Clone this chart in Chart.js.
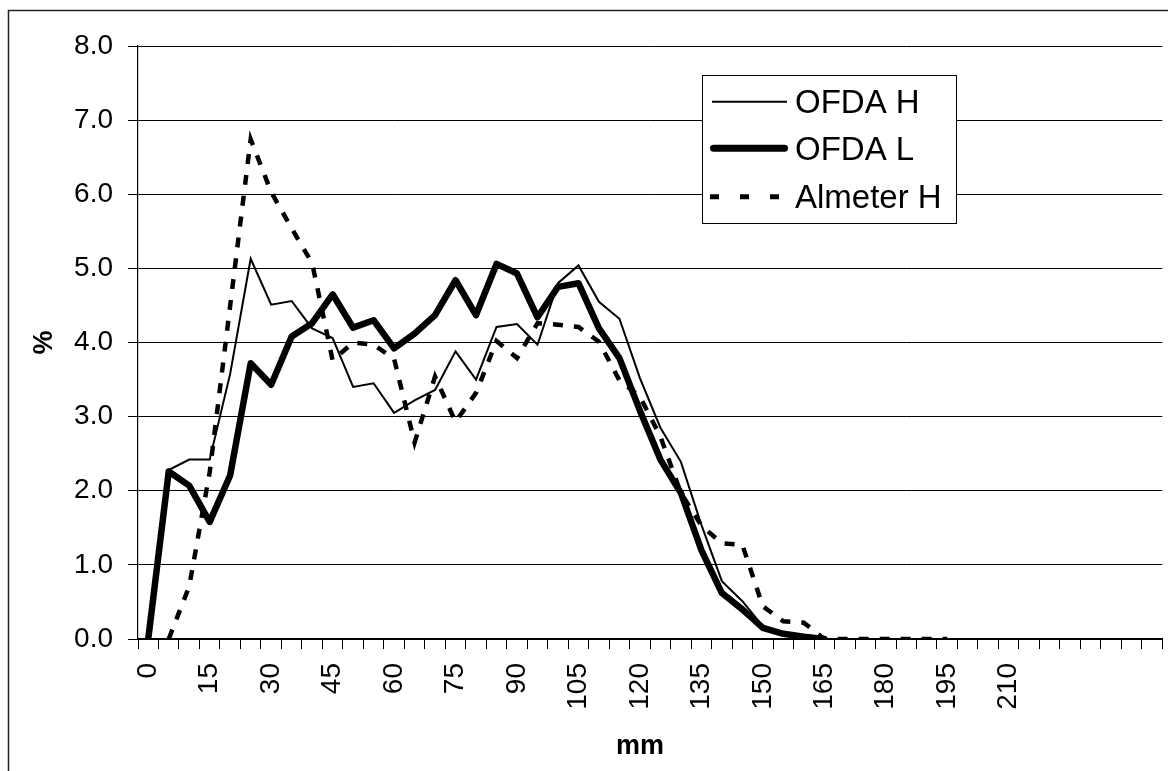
<!DOCTYPE html>
<html lang="en">
<head>
    <meta charset="UTF-8">
    <title>OFDA / Almeter</title>
    <script src="https://cdn.jsdelivr.net/npm/chart.js"></script>
    <style>
        html, body {
            margin: 0;
            padding: 0;
            background: #fff;
            overflow: hidden;
        }
        .chart-box {
            position: absolute;
            left: 0;
            top: 0;
            width: 1200px;
            height: 771px;
        }
    </style>
</head>
<body>
<div class="chart-box">
    <canvas id="lengthChart"></canvas>
</div>

<script>
    // categories: fibre length classes in mm, step 5
    const categories = [0, 5, 10, 15, 20, 25, 30, 35, 40, 45, 50, 55, 60, 65, 70, 75, 80, 85, 90, 95,
        100, 105, 110, 115, 120, 125, 130, 135, 140, 145, 150, 155, 160, 165, 170, 175, 180, 185, 190, 195,
        200, 205, 210, 215, 220, 225, 230, 235, 240, 245];
    const tickLabels = ["0", "15", "30", "45", "60", "75", "90", "105", "120", "135", "150", "165", "180", "195", "210"];
    const yTicks = [0, 1, 2, 3, 4, 5, 6, 7, 8];

    const ofdaH = [0, 2.28, 2.42, 2.42, 3.58, 5.13, 4.51, 4.56, 4.19, 4.06,
        3.40, 3.45, 3.05, 3.22, 3.36, 3.88, 3.50, 4.21, 4.25, 3.97,
        4.80, 5.04, 4.55, 4.32, 3.52, 2.85, 2.39, 1.54, 0.78, 0.51,
        0.17, 0.08, 0.03, 0];
    const ofdaL = [0, 2.26, 2.07, 1.58, 2.21, 3.72, 3.43, 4.08, 4.26, 4.65,
        4.20, 4.30, 3.92, 4.12, 4.37, 4.84, 4.37, 5.06, 4.93, 4.34,
        4.75, 4.80, 4.19, 3.79, 3.08, 2.42, 1.97, 1.20, 0.62, 0.40,
        0.15, 0.07, 0.03, 0];
    const almeterH = [null, 0, 0.71, 2.25, 4.50, 6.74, 6.03, 5.54, 5.07, 3.76,
        4.00, 3.97, 3.78, 2.65, 3.54, 2.93, 3.32, 4.02, 3.79, 4.26,
        4.24, 4.21, 4.01, 3.49, 3.27, 2.73, 1.97, 1.53, 1.29, 1.27,
        0.44, 0.24, 0.22, 0, 0, 0, 0, 0, 0, 0];

    const FONT = "'Liberation Sans', Arial, sans-serif";

    // outer frame + axis titles + boxed legend
    const decorPlugin = {
        id: "decor",
        beforeDraw(chart) {
            const ctx = chart.ctx;
            ctx.save();
            ctx.fillStyle = "#fff";
            ctx.fillRect(0, 0, chart.width, chart.height);
            ctx.strokeStyle = "#222";
            ctx.lineWidth = 1.5;
            ctx.strokeRect(8.5, 10.5, 3000, 3000);
            ctx.restore();
        },
        afterDraw(chart) {
            const ctx = chart.ctx;
            const area = chart.chartArea;
            ctx.save();
            ctx.fillStyle = "#000";
            ctx.font = "bold 27px " + FONT;
            ctx.textAlign = "center";
            ctx.textBaseline = "middle";
            ctx.fillText("mm", 640, 747);
            ctx.translate(45, (area.top + area.bottom) / 2);
            ctx.rotate(-Math.PI / 2);
            ctx.fillText("%", 0, 0);
            ctx.restore();

            // legend
            ctx.save();
            ctx.fillStyle = "#fff";
            ctx.fillRect(702, 75, 254, 148);
            ctx.strokeStyle = "#000";
            ctx.lineWidth = 1;
            ctx.strokeRect(702.5, 75.5, 254, 148);
            const rows = [101.7, 148.3, 196.7];
            chart.data.datasets.forEach((ds, i) => {
                const y = rows[i];
                ctx.beginPath();
                ctx.strokeStyle = "#000";
                ctx.lineWidth = i === 1 ? 7 : (i === 2 ? 5 : 2);
                ctx.lineCap = i === 1 ? "round" : "butt";
                ctx.setLineDash(i === 2 ? [9, 21] : []);
                ctx.moveTo(i === 1 ? 713.5 : (i === 2 ? 710 : 712), y);
                ctx.lineTo(i === 1 ? 784.5 : 787, y);
                ctx.stroke();
                ctx.setLineDash([]);
                ctx.fillStyle = "#000";
                ctx.font = "33px " + FONT;
                ctx.textAlign = "left";
                ctx.textBaseline = "alphabetic";
                ctx.fillText(ds.label, 795, y + 11.7);
            });
            ctx.restore();
        }
    };

    const chartCanvas = document.getElementById("lengthChart").getContext("2d");

    new Chart(chartCanvas, {
        type: "line",
        data: {
            labels: categories,
            datasets: [{
                label: "OFDA H",
                data: ofdaH,
                borderColor: "#000",
                borderWidth: 2,
                pointRadius: 0,
                fill: false,
                tension: 0
            }, {
                label: "OFDA L",
                data: ofdaL,
                borderColor: "#000",
                borderWidth: 6.5,
                borderJoinStyle: "round",
                borderCapStyle: "round",
                pointRadius: 0,
                fill: false,
                tension: 0
            }, {
                label: "Almeter H",
                data: almeterH,
                borderColor: "#000",
                borderWidth: 4.5,
                borderDash: [10, 11],
                pointRadius: 0,
                fill: false,
                tension: 0
            }]
        },
        options: {
            responsive: true,
            maintainAspectRatio: false,
            animation: false,
            layout: {
                padding: { left: 0, top: 46, right: 30, bottom: 0 }
            },
            plugins: {
                legend: { display: false },
                tooltip: { enabled: false }
            },
            scales: {
                x: {
                    type: "category",
                    offset: true,
                    afterFit(scale) { scale.height = 132; },
                    grid: {
                        offset: true,
                        drawOnChartArea: false,
                        drawTicks: true,
                        tickLength: 10,
                        color: "#000",
                        lineWidth: 1
                    },
                    border: { color: "#000", width: 1.2 },
                    ticks: {
                        autoSkip: false,
                        minRotation: 90,
                        maxRotation: 90,
                        padding: 14,
                        color: "#000",
                        font: { family: FONT, size: 28 },
                        callback: function (value) {
                            const lab = String(categories[value]);
                            return tickLabels.includes(lab) ? lab : "";
                        }
                    }
                },
                y: {
                    min: yTicks[0],
                    max: yTicks[yTicks.length - 1],
                    afterFit(scale) { scale.width = 138; },
                    afterBuildTicks(scale) {
                        scale.ticks = yTicks.map(v => ({ value: v }));
                    },
                    grid: {
                        color: "#000",
                        lineWidth: 1,
                        drawTicks: true,
                        tickLength: 10
                    },
                    border: { color: "#000", width: 1.2 },
                    ticks: {
                        padding: 15,
                        color: "#000",
                        font: { family: FONT, size: 28 },
                        callback: v => Number(v).toFixed(1)
                    }
                }
            }
        },
        plugins: [decorPlugin]
    });
</script>
</body>
</html>
